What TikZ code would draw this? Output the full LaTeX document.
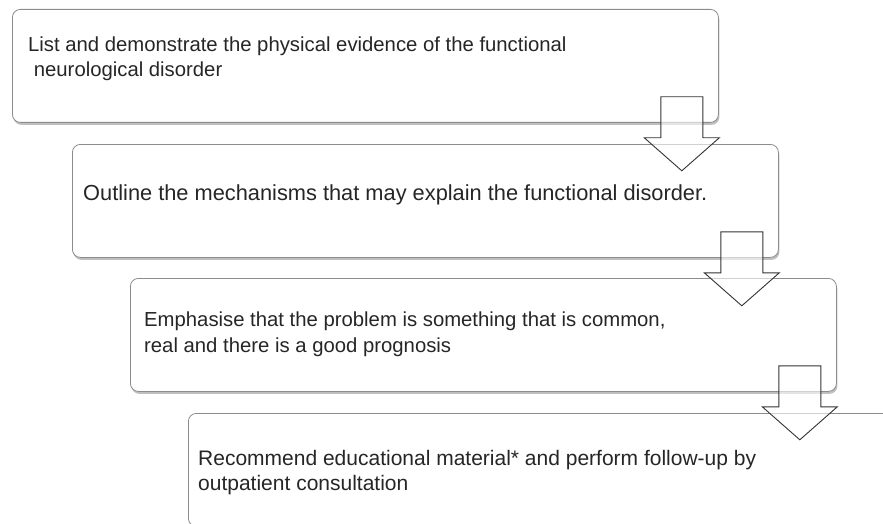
\documentclass[tikz,border=0pt]{standalone}
\usepackage{fontspec}
\setmainfont{Liberation Sans}
\usetikzlibrary{calc,shadows}

\begin{document}
\begin{tikzpicture}[x=1pt, y=-1pt,
    stepbox/.style={draw=black!45, line width=0.8pt, fill=white, rounded corners=8pt,
      minimum width=706pt, minimum height=113pt, anchor=north west,
      drop shadow={shadow xshift=1pt, shadow yshift=-2.5pt, fill=black, opacity=0.25}},
    steptext/.style={anchor=base west, inner sep=0pt, align=left, text=black!85,
      font={\fontsize{20.3}{25.5}\selectfont}},
    flowarrow/.style={draw=black!80, line width=0.9pt, fill=white, fill opacity=0.6, line join=miter}]
  \useasboundingbox (0,0) rectangle (883,524);
  \clip (0,0) rectangle (883,524);

  % Boxes, each shifted down and right
  \node[stepbox] (box1) at (12,9) {};
  \node[stepbox] (box2) at (72,144) {};
  \node[stepbox] (box3) at (130,278) {};
  \node[stepbox] (box4) at (188,413) {};

  % Texts (base is the last line)
  \node[steptext] (text1) at (28,77) {List and demonstrate the physical evidence of the functional\\\hspace*{0.28em}neurological disorder};
  \node[steptext, font={\fontsize{21.8}{25.5}\selectfont}] (text2) at (83,200) {Outline the mechanisms that may explain the functional disorder.};
  \node[steptext] (text3) at (144,352) {Emphasise that the problem is something that is common,\\real and there is a good prognosis};
  \node[steptext, font={\fontsize{21}{24.5}\selectfont}] (text4) at (198,490) {Recommend educational material* and perform follow-up by\\outpatient consultation};

  % Block arrows between the boxes
  \foreach \a in {1,2,3} {
    \draw[flowarrow] ($(box\a.south east)+(-37,-26)$) coordinate (top\a)
      +(-21,0) -- +(21,0) -- +(21,41) -- +(37.5,41) -- +(0,74) -- +(-37.5,41) -- +(-21,41) -- cycle;
  }
\end{tikzpicture}
\end{document}
